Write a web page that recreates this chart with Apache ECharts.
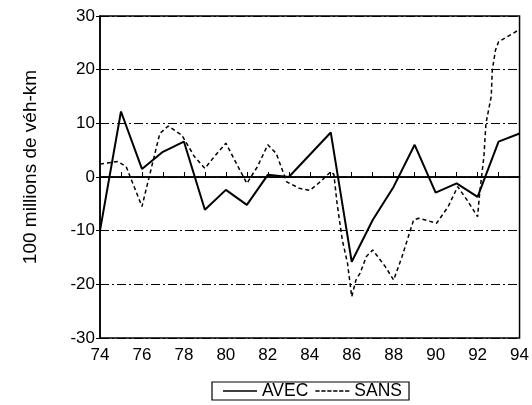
<!DOCTYPE html>
<html><head><meta charset="utf-8">
<script src="https://cdn.jsdelivr.net/npm/echarts@6/dist/echarts.min.js"></script>
<style>html,body{margin:0;padding:0;background:#fff}#c{width:532px;height:405px}</style>
</head><body><div id="c"></div>
<script>
var avecYears = [74,75,76,77,78,79,80,81,82,83,85,86,87,88,89,90,91,92,93,94];
var avecValues = [-10,12.2,1.5,4.7,6.6,-6.1,-2.4,-5.2,0.4,0,8.3,-15.8,-8,-1.8,6.0,-2.9,-1.2,-3.7,6.6,8.1];
var sansYears = [74,74.85,75.25,76,76.85,77.25,77.9,78.5,79,79.45,80,81,81.5,82,82.4,82.9,83.5,84,84.5,85,85.15,85.3,85.55,85.8,86,86.2,86.4,86.7,87,87.6,88,88.4,88.7,88.95,89.2,90.05,90.6,91.05,91.5,92,92.1,92.3,92.4,92.65,92.7,92.85,93,93.7,94];
var sansValues = [2.4,2.9,1.9,-5.5,8.1,9.5,7.8,3.8,1.6,3.8,6.3,-1.2,1.9,6.0,4.4,-0.9,-2.1,-2.5,-0.9,1.0,0.5,-4.9,-11.7,-16.1,-22.3,-19.2,-17.9,-14.8,-13.6,-16.7,-19.2,-14.8,-11.1,-8.0,-7.7,-8.6,-5.5,-1.8,-4.3,-7.4,-3.0,3.8,10,15,19.9,23.6,25.2,26.8,27.5];
var xTicks = [74,76,78,80,82,84,86,88,90,92,94];
var yTicks = [-30,-20,-10,0,10,20,30];
var seriesNames = ['AVEC','SANS'];

function pairs(xs, ys){ return xs.map(function(x,i){return [x, ys[i]];}); }

var chart = echarts.init(document.getElementById('c'));
var font = 'Liberation Sans, Arial, sans-serif';
var solidIcon = 'path://M0,0h40v2h-40z';
var dashIcon = 'path://M0,0h5v2h-5z M7,0h5v2h-5z M14,0h5v2h-5z M21,0h5v2h-5z M28,0h5v2h-5z M35,0h5v2h-5z';
chart.setOption({
  animation:false,
  grid:{left:100,right:5,top:16,bottom:67,show:true,borderColor:'#000',borderWidth:1.5,backgroundColor:'transparent'},
  xAxis:{type:'value',min:xTicks[0],max:xTicks[xTicks.length-1],interval:2,
    axisLine:{lineStyle:{color:'#000',width:1.5}},
    axisTick:{inside:true,length:5,lineStyle:{color:'#000'}},
    minorTick:{show:true,splitNumber:2,length:5,lineStyle:{color:'#000'}},
    axisLabel:{color:'#000',fontSize:17,fontFamily:font,margin:9},
    splitLine:{show:false}},
  yAxis:{type:'value',min:yTicks[0],max:yTicks[yTicks.length-1],interval:10,
    name:'100 millions de véh-km',nameLocation:'middle',nameGap:60,
    nameTextStyle:{color:'#000',fontSize:19,fontFamily:font,padding:[0,0,0,20]},
    axisLine:{show:true,lineStyle:{color:'#000',width:1.5}},
    axisTick:{show:true,inside:false,length:4,lineStyle:{color:'#000'}},
    axisLabel:{color:'#000',fontSize:17,fontFamily:font,margin:5},
    splitLine:{show:true,lineStyle:{color:'#000',width:1,type:[9,3,2,3]}}},
  legend:{bottom:5,left:212,
    data:[{name:seriesNames[0],icon:solidIcon},{name:seriesNames[1],icon:dashIcon}],
    itemWidth:34,itemHeight:2,itemGap:7,
    borderColor:'#000',borderWidth:1.2,padding:[0,7,0,11],
    textStyle:{color:'#000',fontSize:17.5,fontFamily:font}},
  series:[
    {name:seriesNames[0],type:'line',data:pairs(avecYears,avecValues),showSymbol:false,symbol:'none',
     lineStyle:{color:'#000',width:2},itemStyle:{color:'#000'},
     markLine:{silent:true,symbol:'none',label:{show:false},lineStyle:{color:'#000',width:1.5,type:'solid'},data:[{yAxis:0}]}},
    {name:seriesNames[1],type:'line',data:pairs(sansYears,sansValues),showSymbol:false,symbol:'none',
     lineStyle:{color:'#000',width:1.5,type:[4,3]},itemStyle:{color:'#000'}}
  ]
});
</script></body></html>
